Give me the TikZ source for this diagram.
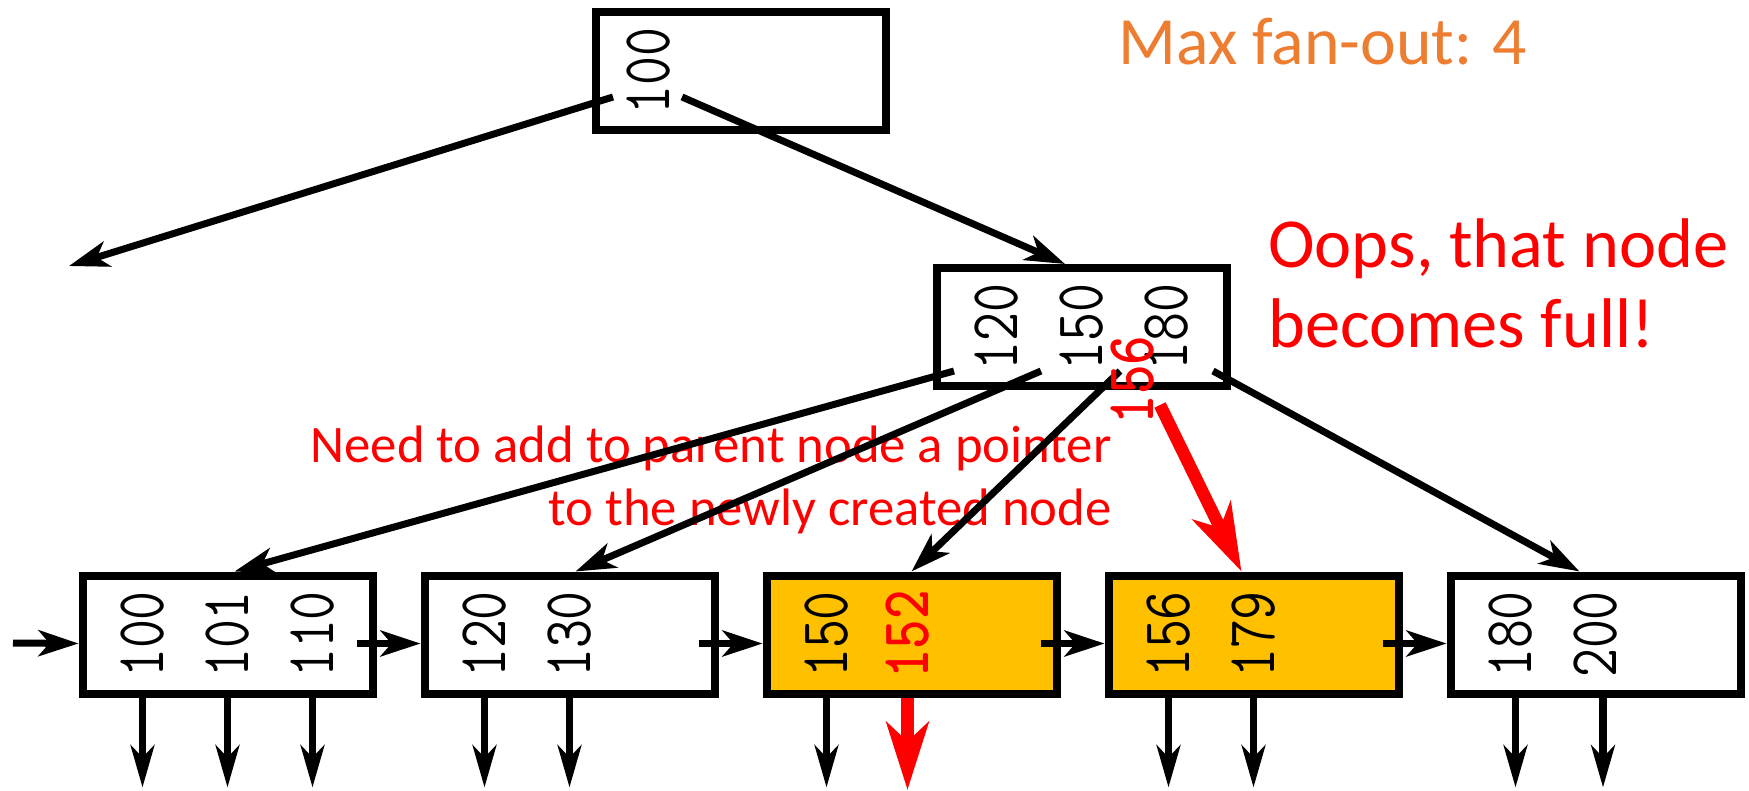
\documentclass[tikz,border=0pt]{standalone}
\usepackage{fontspec}
\usetikzlibrary{arrows.meta, positioning, calc}
\newfontfamily\notefont{Carlito}
\definecolor{fullnode}{RGB}{255,192,0}
\definecolor{hint}{RGB}{237,125,49}
\tikzset{
  % page of the tree (root, inner, leaf)
  blk/.style={rectangle, draw=black, line width=0.16cm, minimum width=5.8cm,
              minimum height=2.36cm, inner sep=0pt},
  % key written upwards
  key/.style={rotate=90, xscale=0.82, inner sep=0pt,
              font=\fontsize{39}{39}\selectfont\ttfamily},
  newkey/.style={key, text=red, font=\fontsize{39}{39}\selectfont\ttfamily\bfseries},
  ptr/.style={-{Stealth[length=0.8cm, width=0.52cm, inset=0.22cm]}, line width=0.14cm},
  down/.style={-{Stealth[length=0.84cm, width=0.47cm, inset=0.24cm]}, line width=0.15cm},
  ins/.style={-{Stealth[length=1.35cm, width=0.84cm, inset=0.38cm]}, line width=0.25cm, draw=red},
  note/.style={inner sep=0pt, text=red, font=\notefont\fontsize{30}{35.3}\selectfont}
}

\begin{document}
\begin{tikzpicture}
  \useasboundingbox (0,0) rectangle (34.98,-15.82);

  % --- remarks (base = last line) ---
  \node[note, text=hint, anchor=base west, font=\notefont\fontsize{38.5}{44}\selectfont]
    (fan) at (22.36,-1.30) {Max fan-out: 4};
  \node[note, anchor=base west, align=left, font=\notefont\fontsize{40}{45.5}\selectfont]
    (oops) at (25.36,-6.94) {Oops, that node\\becomes full!};
  \node[note, anchor=base east, align=right] (need) at (22.24,-10.5)
    {Need to add to parent node a pointer\\to the newly created node};

  % --- inner pages ---
  \node[blk] (root) at (14.82,-1.42) {};
  \node[blk] (mid) at (21.64,-6.54) {};

  % --- leaves ---
  \node[blk] (l1) at (4.55,-12.69) {};
  \node[blk, right=0.88cm of l1] (l2) {};
  \node[blk, right=0.88cm of l2, fill=fullnode] (l3) {};
  \node[blk, right=0.88cm of l3, fill=fullnode] (l4) {};
  \node[blk, right=0.88cm of l4] (l5) {};

  % --- keys ---
  \node[key] (r100) at ($(root)+(-1.85,0)$) {100};
  \foreach \k [count=\i] in {120,150,180}
    \node[key] (m\i) at ($(mid)+(-3.4+1.7*\i,0)$) {\k};
  \foreach \leaf/\keys in {l1/{100,101,110}, l2/{120,130}, l3/{150}, l4/{156,179}, l5/{180,200}}
    \foreach \k [count=\i] in \keys
      \node[key] (\leaf k\i) at ($(\leaf)+(-3.4+1.7*\i,0)$) {\k};
  \node[newkey] (l3k2) at ($(l3)+(-0.08,0)$) {152};

  % --- pointers of the inner pages ---
  \coordinate (lost) at (1.38,-5.32);
  \draw[ptr] ($(root)+(-2.56,-0.52)$) -- (lost);
  \draw[ptr] ($(root)+(-1.18,-0.52)$) -- ([xshift=-0.34cm]mid.north);
  \draw[ptr] ($(mid)+(-2.56,-0.88)$) -- ([xshift=0.14cm]l1.north);
  \draw[ptr] ($(mid)+(-0.82,-0.88)$) -- ([xshift=0.12cm]l2.north);
  \draw[ptr] ($(mid)+(0.76,-0.88)$) -- (l3.north);
  \draw[ptr] ($(mid)+(2.62,-0.88)$) -- ([xshift=-0.32cm]l5.north);

  % --- leaf chain ---
  \coordinate (head) at (0.26,-12.86);
  \draw[ptr] (head) -- ([yshift=-0.18cm]l1.west);
  \foreach \a/\b in {l1/l2, l2/l3, l3/l4, l4/l5}
    \draw[ptr] ([xshift=-0.4cm,yshift=-0.18cm]\a.east) -- ([yshift=-0.18cm]\b.west);

  % --- record pointers ---
  \foreach \leaf/\xs in {l1/-1.7, l1/0, l1/1.7, l2/-1.7, l2/0, l3/-1.7, l4/-1.7, l4/0, l5/-1.6, l5/0.15}
    \draw[down] ([xshift=\xs cm]\leaf.south) -- ++(0,-1.8);
  \draw[ins] ([xshift=-0.08cm]l3.south) -- ++(0,-1.85);

  % --- the new separator ---
  \node[newkey] (m156) at ($(mid)+(1.02,-1.06)$) {156};
  \coordinate (rs) at ($(mid)+(1.56,-1.56)$);
  \draw[ins] (rs) -- ([xshift=-0.24cm]l4.north);
\end{tikzpicture}
\end{document}
